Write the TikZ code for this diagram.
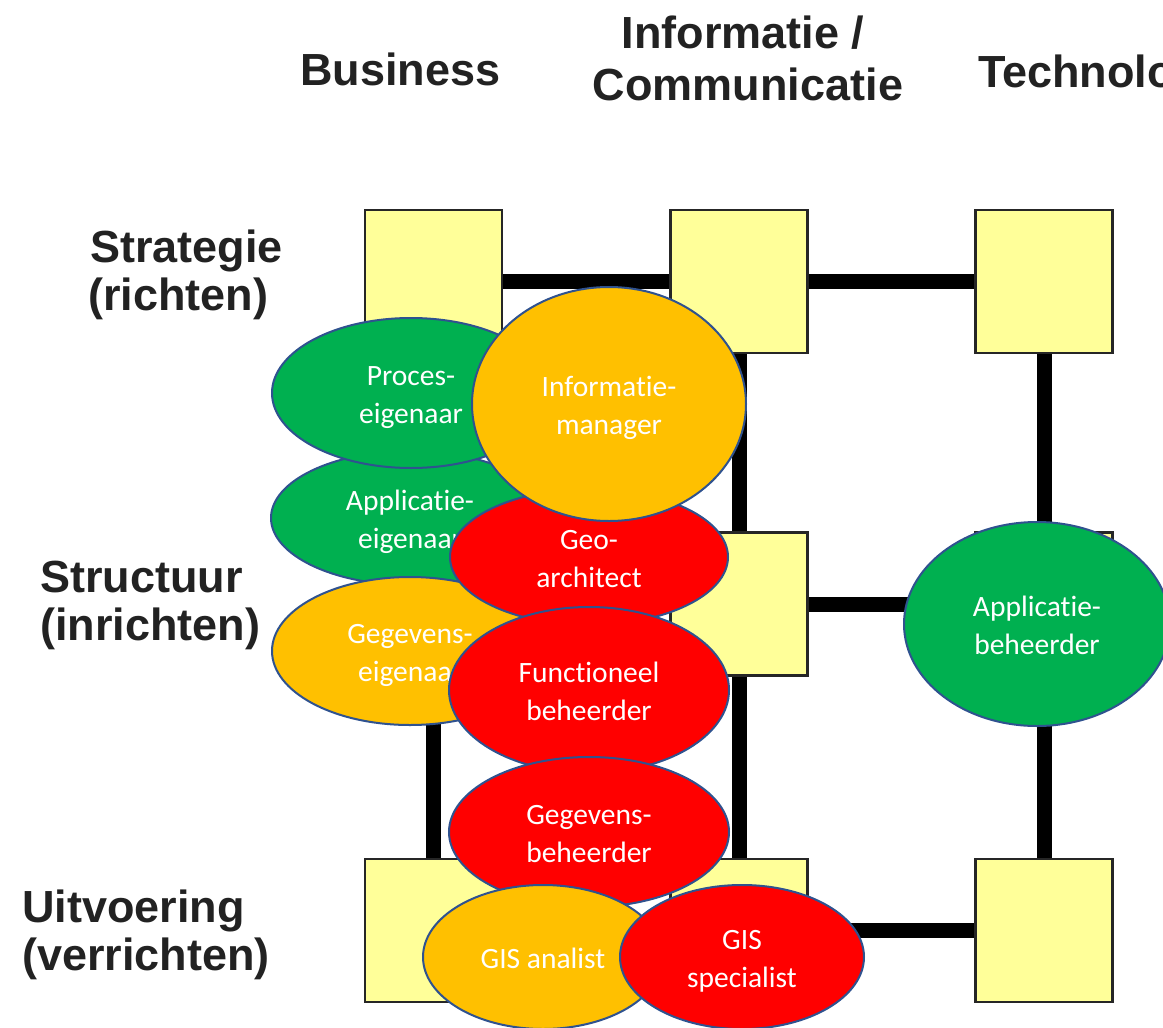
\documentclass[tikz,border=0pt]{standalone}
\usepackage{fontspec}
\usetikzlibrary{shapes.geometric}
\newfontfamily\rolefont{Carlito}[Ligatures={NoCommon}]
\newfontfamily\labelfont{Liberation Sans}
\definecolor{sqfill}{HTML}{FFFF99}
\definecolor{rgreen}{HTML}{00B050}
\definecolor{rorange}{HTML}{FFC000}
\definecolor{rred}{HTML}{FF0000}
\definecolor{rborder}{HTML}{2F528F}
\definecolor{lblcol}{HTML}{222222}
\begin{document}
\begin{tikzpicture}[x=1pt,y=-1pt,
  sq/.style={draw=black!85, line width=2.5pt, fill=sqfill, minimum width=137pt, minimum height=143pt, inner sep=0pt},
  conn/.style={line width=15pt, black},
  role/.style={ellipse, draw=rborder, line width=2pt, inner sep=0pt, text=white, align=center,
    font=\rolefont\fontsize{29.5}{38}\selectfont, text height=68pt, text depth=8pt},
  oneline/.style={text height=30pt, text depth=8pt},
  lbl/.style={text=lblcol, font=\labelfont\bfseries\fontsize{45}{48}\selectfont, inner sep=0pt},
]
\useasboundingbox (0,0) rectangle (1163,1028);
\clip (0,0) rectangle (1163,1028);
\fill[white] (0,0) rectangle (1163,1028);

% headers
\node[lbl, anchor=base west] (hbus) at (300,85) {Business};
\node[lbl, anchor=base] (hinf1) at (743,48) {Informatie /};
\node[lbl, anchor=base] (hinf2) at (748,100) {Communicatie};
\node[lbl, anchor=base west] (htec) at (978,87) {Technologie};

% row labels
\node[lbl, anchor=base west] (rs1) at (90,262) {Strategie};
\node[lbl, anchor=base west] (rs2) at (88,310) {(richten)};
\node[lbl, anchor=base west] (rst1) at (40,592) {Structuur};
\node[lbl, anchor=base west] (rst2) at (40,640) {(inrichten)};
\node[lbl, anchor=base west] (ru1) at (22,922) {Uitvoering};
\node[lbl, anchor=base west] (ru2) at (22,970) {(verrichten)};

% grid squares
\node[sq] (tl) at (433.5,281.5) {};
\node[sq] (tm) at (739,281.5) {};
\node[sq] (tr) at (1044,281.5) {};
\node[sq] (ml) at (433.5,604) {};
\node[sq] (mm) at (739,604) {};
\node[sq] (mr) at (1044,604) {};
\node[sq] (bl) at (433.5,930.5) {};
\node[sq] (bm) at (739,930.5) {};
\node[sq] (br) at (1044,930.5) {};

% connectors
\draw[conn] (tl) -- (tm);
\draw[conn] (tm) -- (tr);
\draw[conn] (tm) -- (mm);
\draw[conn] (tr) -- (mr);
\draw[conn] (mm) -- (mr);
\draw[conn] (mm) -- (bm);
\draw[conn] (ml) -- (bl);
\draw[conn] (mr) -- (br);
\draw[conn] (bm) -- (br);

% role ellipses (z-order as in reference)
\node[role, fill=rgreen, minimum width=278pt, minimum height=134pt] (appeig) at (410,518) {Applicatie-\\eigenaar};
\node[role, fill=rgreen, minimum width=278pt, minimum height=150pt] (proeig) at (411,393) {Proces-\\eigenaar};
\node[role, fill=rorange, minimum width=276pt, minimum height=148pt] (gegeig) at (410,651) {Gegevens-\\eigenaar};
\node[role, fill=rred, minimum width=278pt, minimum height=136pt] (geo) at (589,557) {Geo-\\architect};
\node[role, fill=rorange, minimum width=274pt, minimum height=234pt] (infman) at (609,404) {Informatie-\\manager};
\node[role, fill=rred, minimum width=280pt, minimum height=166pt] (funbeh) at (589,690) {Functioneel\\beheerder};
\node[role, fill=rred, minimum width=280pt, minimum height=150pt] (gegbeh) at (589,832) {Gegevens-\\beheerder};
\node[role, oneline, fill=rorange, minimum width=240pt, minimum height=144pt] (gisan) at (543,957) {GIS analist};
\node[role, fill=rred, minimum width=244pt, minimum height=144pt] (gissp) at (742,957) {GIS\\specialist};
\node[role, fill=rgreen, minimum width=266pt, minimum height=204pt] (appbeh) at (1037,624) {Applicatie-\\beheerder};
\end{tikzpicture}
\end{document}
